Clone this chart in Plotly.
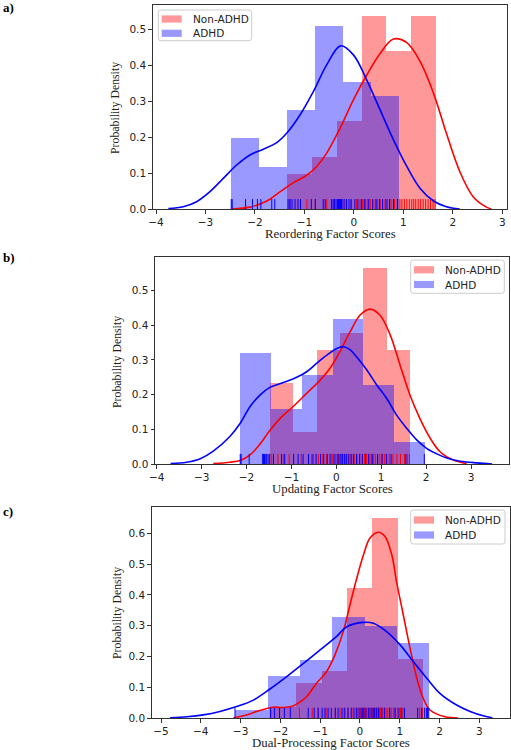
import plotly.graph_objects as go

W, H = 511, 750

# ---------------- data ----------------
series_names = ["Non-ADHD", "ADHD"]
x_titles = ["Reordering Factor Scores", "Updating Factor Scores", "Dual-Processing Factor Scores"]
panel_labels = ["a)", "b)", "c)"]

# (a) Reordering
a_non_edges = [-1.35, -0.85, -0.35, 0.15, 0.65, 1.15, 1.65]
a_non_heights = [0.098, 0.146, 0.244, 0.537, 0.439, 0.537]
a_adhd_edges = [-2.49, -1.925, -1.36, -0.795, -0.23, 0.335, 0.90]
a_adhd_heights = [0.197, 0.118, 0.276, 0.508, 0.354, 0.315]
a_non_kde_x = [-2.47, -2.10, -1.76, -1.49, -1.22, -0.95, -0.75, -0.55, -0.28, -0.01, 0.26, 0.53, 0.80,
               1.07, 1.34, 1.61, 1.87, 2.14, 2.41, 2.68, 2.78]
a_non_kde_y = [0.001, 0.006, 0.023, 0.049, 0.074, 0.095, 0.119, 0.156, 0.225, 0.304, 0.373, 0.433, 0.473,
               0.463, 0.410, 0.322, 0.211, 0.105, 0.035, 0.006, 0.001]
a_adhd_kde_x = [-3.75, -3.45, -3.18, -2.91, -2.64, -2.37, -2.10, -1.83, -1.56, -1.36, -1.09, -0.82, -0.55,
                -0.27, -0.01, 0.26, 0.53, 0.80, 1.07, 1.34, 1.61, 1.87, 2.14]
a_adhd_kde_y = [0.002, 0.007, 0.021, 0.049, 0.086, 0.123, 0.151, 0.167, 0.185, 0.211, 0.262, 0.327, 0.401,
                0.454, 0.429, 0.359, 0.276, 0.193, 0.119, 0.058, 0.023, 0.007, 0.001]
a_non_rug = [-1.30, -0.95, -0.78, -0.55, -0.40, -0.30, -0.18, -0.05, 0.05, 0.12,
             0.17, 0.20, 0.24, 0.28, 0.33, 0.38, 0.43, 0.48, 0.53, 0.58, 0.63,
             0.68, 0.75, 0.82, 0.88, 0.93, 0.97, 1.02, 1.07, 1.12,
             1.17, 1.21, 1.25, 1.30, 1.35, 1.40, 1.45, 1.50, 1.55, 1.60, 1.64]
a_adhd_rug = [-2.48, -2.46, -2.19, -2.05, -1.95, -1.88, -1.66, -1.60,
              -1.33, -1.29, -1.25, -1.19, -1.13, -1.08, -0.86,
              -0.78, -0.62, -0.58, -0.45, -0.42, -0.39, -0.36, -0.33, -0.31, -0.29, -0.27, -0.25, -0.24,
              -0.20, -0.15, -0.10, -0.06, 0.02, 0.08, 0.15, 0.22, 0.30,
              0.38, 0.45, 0.52, 0.58, 0.65, 0.72, 0.80, 0.88]

# (b) Updating
b_non_edges = [-1.476, -0.956, -0.436, 0.083, 0.603, 1.122, 1.642]
b_non_heights = [0.235, 0.094, 0.329, 0.377, 0.565, 0.329]
b_adhd_edges = [-2.144, -1.457, -0.770, -0.083, 0.604, 1.290, 1.976]
b_adhd_heights = [0.322, 0.161, 0.257, 0.418, 0.229, 0.065]
b_non_kde_x = [-2.74, -2.37, -2.14, -1.92, -1.70, -1.48, -1.25, -0.96, -0.66, -0.36, -0.14, 0.08, 0.31,
               0.53, 0.75, 0.97, 1.20, 1.42, 1.64, 1.86, 2.09, 2.31, 2.61, 2.90]
b_non_kde_y = [0.002, 0.006, 0.011, 0.027, 0.058, 0.097, 0.132, 0.166, 0.204, 0.242, 0.276, 0.324, 0.381,
               0.429, 0.446, 0.429, 0.372, 0.285, 0.199, 0.132, 0.075, 0.036, 0.012, 0.002]
b_adhd_kde_x = [-3.69, -3.33, -3.03, -2.74, -2.37, -2.14, -1.92, -1.70, -1.48, -1.18, -0.88, -0.66, -0.44,
                -0.21, 0.01, 0.16, 0.31, 0.45, 0.68, 0.90, 1.12, 1.34, 1.57, 1.79, 2.01, 2.24, 2.46,
                2.76, 3.13, 3.47]
b_adhd_kde_y = [0.002, 0.006, 0.016, 0.038, 0.080, 0.118, 0.166, 0.199, 0.221, 0.235, 0.250, 0.266, 0.290,
                0.314, 0.333, 0.338, 0.329, 0.309, 0.271, 0.228, 0.190, 0.142, 0.103, 0.070, 0.046,
                0.030, 0.018, 0.009, 0.004, 0.001]
b_non_rug = [-1.45, -1.40, -1.30, -1.18, -1.05, -0.78, -0.55,
             -0.40, -0.30, -0.22, -0.15, -0.08, -0.02, 0.05,
             0.12, 0.20, 0.27, 0.33, 0.40, 0.46, 0.52, 0.58,
             0.63, 0.67, 0.71, 0.75, 0.79, 0.83, 0.87, 0.92, 0.97, 1.02, 1.07, 1.11,
             1.18, 1.26, 1.35, 1.43, 1.52, 1.58, 1.63]
b_adhd_rug = [-2.14, -2.12, -1.94, -1.64, -1.62, -1.60, -1.57, -1.55, -1.52, -1.49,
              -1.40, -1.22, -1.15, -0.95, -0.85,
              -0.74, -0.62, -0.52, -0.45, -0.35, -0.28, -0.20, -0.12,
              -0.05, 0.02, 0.06, 0.10, 0.14, 0.18, 0.23, 0.28, 0.33, 0.38, 0.45, 0.52, 0.58,
              0.65, 0.72, 0.80, 0.92, 1.02, 1.12, 1.22,
              1.55, 1.96]

# (c) Dual-Processing
c_non_edges = [-2.244, -1.607, -0.970, -0.334, 0.303, 0.939, 1.576]
c_non_heights = [0.038, 0.117, 0.155, 0.422, 0.651, 0.192]
c_adhd_edges = [-3.14, -2.327, -1.515, -0.702, 0.11, 0.923, 1.735]
c_adhd_heights = [0.028, 0.137, 0.191, 0.328, 0.300, 0.246]
c_non_kde_x = [-3.18, -2.85, -2.60, -2.34, -2.18, -1.93, -1.72, -1.55, -1.34, -1.09, -0.84, -0.63, -0.42,
               -0.25, -0.08, 0.09, 0.25, 0.46, 0.63, 0.80, 0.92, 1.09, 1.26, 1.43, 1.59, 1.76, 2.14, 2.47]
c_non_kde_y = [0.002, 0.011, 0.022, 0.032, 0.036, 0.035, 0.038, 0.049, 0.070, 0.114, 0.151, 0.205, 0.281,
               0.368, 0.454, 0.530, 0.584, 0.603, 0.589, 0.530, 0.443, 0.335, 0.227, 0.130, 0.065,
               0.027, 0.005, 0.001]
c_adhd_kde_x = [-4.77, -4.35, -3.94, -3.52, -3.10, -2.68, -2.26, -1.84, -1.42, -1.00, -0.59, -0.33, 0.09,
                0.34, 0.67, 1.01, 1.34, 1.68, 2.01, 2.43, 2.77, 3.10, 3.33]
c_adhd_kde_y = [0.002, 0.005, 0.011, 0.022, 0.038, 0.059, 0.095, 0.135, 0.178, 0.222, 0.265, 0.297, 0.311,
                0.308, 0.281, 0.238, 0.184, 0.130, 0.081, 0.043, 0.022, 0.008, 0.002]
c_non_rug = [-2.24, -1.52, -1.20, -1.05, -0.85, -0.62, -0.50, -0.40,
             -0.30, -0.20, -0.10, -0.05, 0.02, 0.08, 0.12, 0.16, 0.20, 0.24, 0.28,
             0.31, 0.34, 0.37, 0.40, 0.43, 0.46, 0.49, 0.52, 0.55, 0.58, 0.62, 0.66, 0.70, 0.75,
             0.80, 0.85, 0.90, 0.95, 1.02, 1.08, 1.50, 1.57]
c_adhd_rug = [-3.14, -2.25, -2.15, -2.02, -1.90, -1.75,
              -1.30, -1.15, -1.05, -0.95, -0.88, -0.80, -0.72,
              -0.62, -0.55, -0.45, -0.38, -0.30, -0.22, -0.15, -0.08, -0.02, 0.03, 0.07, 0.10,
              0.15, 0.22, 0.28, 0.33, 0.37, 0.42, 0.47, 0.55, 0.62, 0.75, 0.88,
              0.98, 1.05, 1.12, 1.45, 1.55, 1.62, 1.67, 1.70, 1.73]

x_ticks = [[-4, -3, -2, -1, 0, 1, 2, 3], [-4, -3, -2, -1, 0, 1, 2, 3], [-5, -4, -3, -2, -1, 0, 1, 2, 3]]
y_ticks = [[0.0, 0.1, 0.2, 0.3, 0.4, 0.5], [0.0, 0.1, 0.2, 0.3, 0.4, 0.5],
           [0.0, 0.1, 0.2, 0.3, 0.4, 0.5, 0.6]]

# ---------------- layout geometry (pixels) ----------------
geom = [
    dict(l=152.7, r=507.3, t=5.0, b=209.3, xr=[-4.067, 3.101], ym=0.5675,
         leg=dict(x0=158.3, x1=251.7, y0=10.0, y1=40.7, r1=19.0, r2=33.3, px=161.7),
         ytx=114.5, yty=108.5, xty=233.5, lab_y=7.5),
    dict(l=155.0, r=509.3, t=256.7, b=464.3, xr=[-4.038, 3.853], ym=0.5966,
         leg=dict(x0=410.7, x1=504.3, y0=260.0, y1=293.3, r1=269.8, r2=284.5, px=414.0),
         ytx=117.0, yty=362.0, xty=489.5, lab_y=257.5),
    dict(l=151.7, r=510.0, t=506.7, b=718.3, xr=[-5.234, 3.772], ym=0.686,
         leg=dict(x0=410.7, x1=505.0, y0=510.0, y1=544.0, r1=520.0, r2=535.0, px=414.0),
         ytx=117.0, yty=613.0, xty=742.5, lab_y=511.5),
]

panels = [
    (a_non_edges, a_non_heights, a_non_kde_x, a_non_kde_y, a_non_rug,
     a_adhd_edges, a_adhd_heights, a_adhd_kde_x, a_adhd_kde_y, a_adhd_rug),
    (b_non_edges, b_non_heights, b_non_kde_x, b_non_kde_y, b_non_rug,
     b_adhd_edges, b_adhd_heights, b_adhd_kde_x, b_adhd_kde_y, b_adhd_rug),
    (c_non_edges, c_non_heights, c_non_kde_x, c_non_kde_y, c_non_rug,
     c_adhd_edges, c_adhd_heights, c_adhd_kde_x, c_adhd_kde_y, c_adhd_rug),
]

RED, BLUE = "rgb(255,0,0)", "rgb(0,0,255)"
RED_A, BLUE_A = "rgba(255,0,0,0.4)", "rgba(0,0,255,0.4)"
RED_P, BLUE_P = "#ff9999", "#9999ff"
TICK_FONT = dict(family="DejaVu Sans", size=10.5, color="#222222")
SERIF = "Liberation Serif"


def px2x(p):
    return p / W


def px2y(p):
    return 1 - p / H


def ax_name(n, letter):
    return letter if n == 1 else f"{letter}{n}"


fig = go.Figure()
layout = dict(width=W, height=H, margin=dict(l=0, r=0, t=0, b=0),
              paper_bgcolor="white", plot_bgcolor="white", showlegend=False,
              barmode="overlay", bargap=0)
shapes, annotations = [], []


def add_bars(edges, heights, fill_col, xa, ya):
    centers = [(edges[i] + edges[i + 1]) / 2 for i in range(len(heights))]
    widths = [edges[i + 1] - edges[i] for i in range(len(heights))]
    fig.add_trace(go.Bar(x=centers, y=heights, width=widths, marker=dict(color=fill_col, line=dict(width=0)),
                         xaxis=xa, yaxis=ya, hoverinfo="skip"))


def add_lines(kx, ky, rug, line_col, xa, ya, rug_h):
    fig.add_trace(go.Scatter(x=kx, y=ky, mode="lines",
                             line=dict(color=line_col, width=1.6, shape="spline", smoothing=1.0),
                             xaxis=xa, yaxis=ya, hoverinfo="skip"))
    rx, ry = [], []
    for v in rug:
        rx += [v, v, None]
        ry += [0, rug_h, None]
    fig.add_trace(go.Scatter(x=rx, y=ry, mode="lines", line=dict(color=line_col, width=1.0),
                             xaxis=xa, yaxis=ya, hoverinfo="skip"))


for i, (g, p) in enumerate(zip(geom, panels)):
    n = i + 1
    xa, ya = ax_name(n, "x"), ax_name(n, "y")
    dom_x = [px2x(g["l"]), px2x(g["r"])]
    dom_y = [px2y(g["b"]), px2y(g["t"])]
    yr = [0, g["ym"]]
    rug_h = 0.05 * g["ym"]

    layout["xaxis" if n == 1 else f"xaxis{n}"] = dict(
        domain=dom_x, range=g["xr"], anchor=ya, showgrid=False, zeroline=False,
        showline=True, mirror=True, linecolor="#333333", linewidth=1,
        ticks="outside", ticklen=3.5, tickwidth=0.8, tickcolor="#333333",
        tickvals=x_ticks[i], tickfont=TICK_FONT, automargin=False, fixedrange=True)
    layout["yaxis" if n == 1 else f"yaxis{n}"] = dict(
        domain=dom_y, range=yr, anchor=xa, showgrid=False, zeroline=False,
        showline=True, mirror=True, linecolor="#333333", linewidth=1,
        ticks="outside", ticklen=3.5, tickwidth=0.8, tickcolor="#333333",
        tickvals=y_ticks[i], tickformat=".1f", tickfont=TICK_FONT, automargin=False, fixedrange=True)

    ne, nh, nkx, nky, nrug, ae, ah, akx, aky, arug = p
    # matplotlib order: patches (zorder 1) below lines (zorder 2)
    add_bars(ne, nh, RED_A, xa, ya)
    add_bars(ae, ah, BLUE_A, xa, ya)
    add_lines(nkx, nky, nrug, RED, xa, ya, rug_h)
    add_lines(akx, aky, arug, BLUE, xa, ya, rug_h)

    annotations.append(dict(text=x_titles[i], xref="paper", yref="paper",
                            x=px2x((g["l"] + g["r"]) / 2), y=px2y(g["xty"]),
                            xanchor="center", yanchor="middle", showarrow=False,
                            font=dict(family=SERIF, size=12.8, color="#222222")))
    annotations.append(dict(text="Probability Density", xref="paper", yref="paper",
                            x=px2x(g["ytx"]), y=px2y(g["yty"]), textangle=-90,
                            xanchor="center", yanchor="middle", showarrow=False,
                            font=dict(family=SERIF, size=11.8, color="#222222")))
    annotations.append(dict(text="<b>" + panel_labels[i] + "</b>", xref="paper", yref="paper",
                            x=px2x(0.5), y=px2y(g["lab_y"]), xanchor="left", yanchor="middle",
                            showarrow=False, font=dict(family=SERIF, size=13, color="black")))

    L = g["leg"]
    r = 2.5
    x0, x1, y0, y1 = L["x0"], L["x1"], L["y0"], L["y1"]
    path = (f"M {px2x(x0 + r)},{px2y(y0)} L {px2x(x1 - r)},{px2y(y0)} "
            f"Q {px2x(x1)},{px2y(y0)} {px2x(x1)},{px2y(y0 + r)} "
            f"L {px2x(x1)},{px2y(y1 - r)} Q {px2x(x1)},{px2y(y1)} {px2x(x1 - r)},{px2y(y1)} "
            f"L {px2x(x0 + r)},{px2y(y1)} Q {px2x(x0)},{px2y(y1)} {px2x(x0)},{px2y(y1 - r)} "
            f"L {px2x(x0)},{px2y(y0 + r)} Q {px2x(x0)},{px2y(y0)} {px2x(x0 + r)},{px2y(y0)} Z")
    shapes.append(dict(type="path", path=path, xref="paper", yref="paper", layer="above",
                       fillcolor="rgba(255,255,255,0.8)", line=dict(color="#cccccc", width=1)))
    for row_y, col, name in [(L["r1"], RED_P, series_names[0]), (L["r2"], BLUE_P, series_names[1])]:
        shapes.append(dict(type="rect", xref="paper", yref="paper", layer="above",
                           x0=px2x(L["px"]), x1=px2x(L["px"] + 20),
                           y0=px2y(row_y - 3.6), y1=px2y(row_y + 3.6),
                           fillcolor=col, line=dict(width=0)))
        annotations.append(dict(text=name, xref="paper", yref="paper",
                                x=px2x(L["px"] + 29), y=px2y(row_y), xanchor="left", yanchor="middle",
                                showarrow=False, font=dict(family="DejaVu Sans", size=10.5, color="#222222")))

layout["shapes"] = shapes
layout["annotations"] = annotations
fig.update_layout(**layout)
fig.write_html("out.html", config={"displayModeBar": False},
               post_script="document.body.style.margin='0px';document.body.style.overflow='hidden';")
